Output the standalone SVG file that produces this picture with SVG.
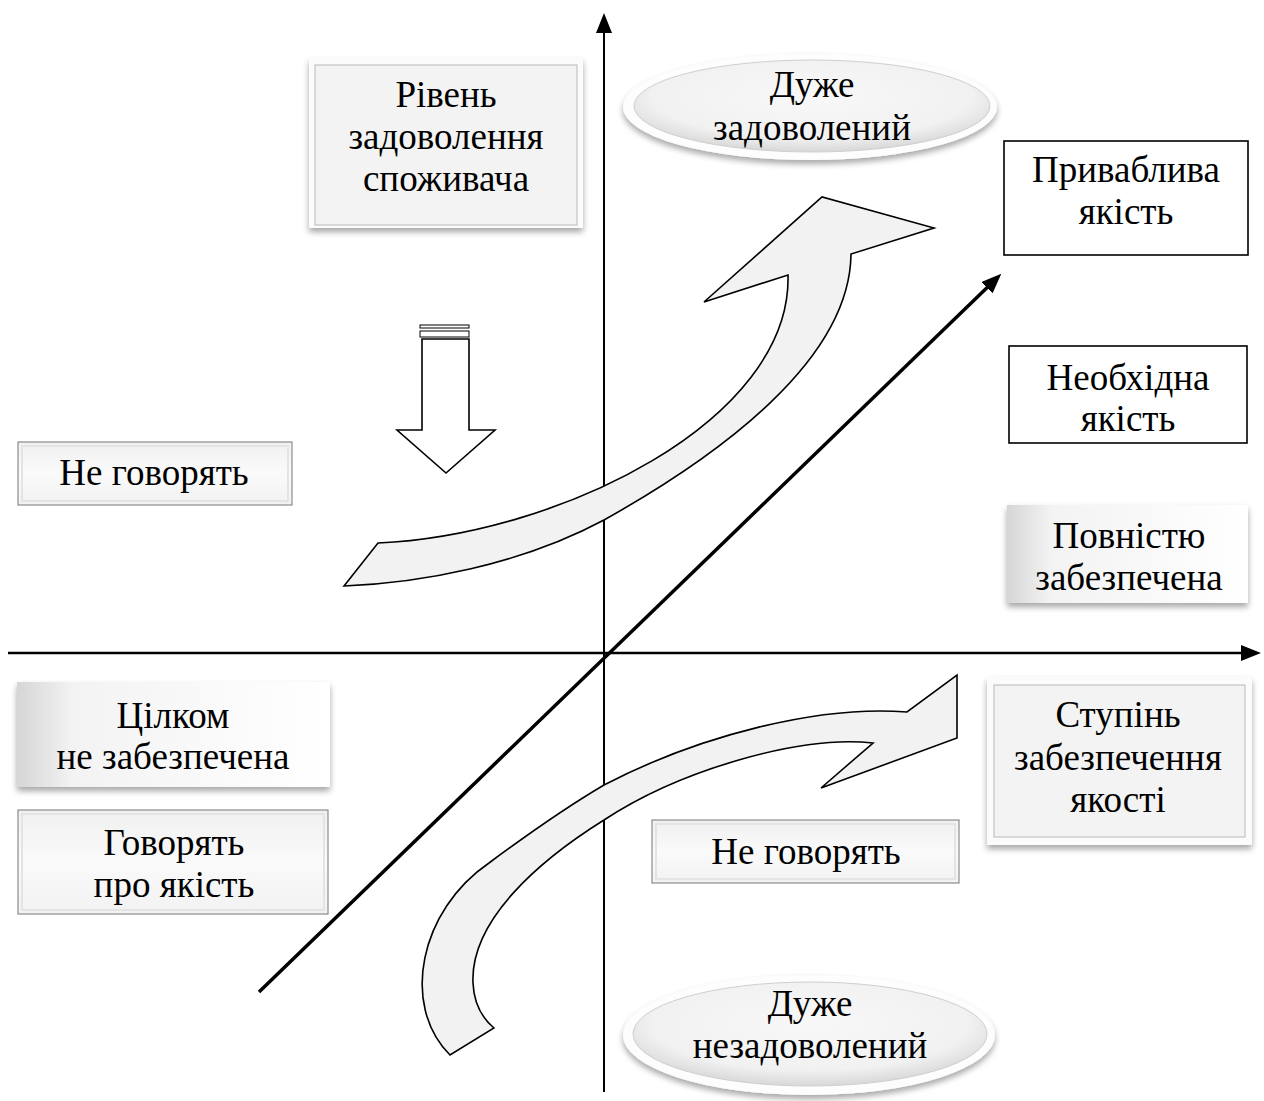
<svg xmlns="http://www.w3.org/2000/svg" width="1264" height="1101" viewBox="0 0 1264 1101">
<defs>
<style>
text{font-family:"Liberation Serif","Times New Roman","DejaVu Serif",serif;font-size:37px;fill:#000;text-anchor:middle}
.plain{fill:#fff;stroke:#000;stroke-width:1.6}
.bevOuter{fill:#fbfbfb;filter:url(#sh)}
.bevInner{fill:#f3f3f3;stroke:#b8b8b8;stroke-width:1}
.flat{fill:url(#gFlat);stroke:#8c8c8c;stroke-width:1.2}
.flatIn{fill:none;stroke:#e4e4e4;stroke-width:2}
.soft{fill:url(#gSoft);filter:url(#sh)}
.ax{stroke:#000;fill:none}
.band{fill:#f2f2f2;stroke:#000;stroke-width:1.6;stroke-linejoin:miter}
.ellOut{fill:#fdfdfd;filter:url(#sh)}
.ellIn{fill:url(#gEll);stroke:#cfcfcf;stroke-width:1}
</style>
<filter id="sh" x="-10%" y="-10%" width="120%" height="130%">
<feGaussianBlur in="SourceAlpha" stdDeviation="3"/>
<feOffset dx="0" dy="4" result="b"/>
<feComponentTransfer><feFuncA type="linear" slope="0.35"/></feComponentTransfer>
<feMerge><feMergeNode/><feMergeNode in="SourceGraphic"/></feMerge>
</filter>
<linearGradient id="gFlat" x1="0" y1="0" x2="0" y2="1">
<stop offset="0" stop-color="#f0f0f0"/><stop offset="0.5" stop-color="#fafafa"/><stop offset="1" stop-color="#f2f2f2"/>
</linearGradient>
<linearGradient id="gSoft" x1="0" y1="0" x2="1" y2="0">
<stop offset="0" stop-color="#d6d6d6"/><stop offset="0.18" stop-color="#f3f3f3"/><stop offset="1" stop-color="#ffffff"/>
</linearGradient>
<radialGradient id="gEll" cx="0.5" cy="0.4" r="0.6">
<stop offset="0" stop-color="#f8f8f8"/><stop offset="0.75" stop-color="#f1f1f1"/><stop offset="1" stop-color="#d8d8d8"/>
</radialGradient>
<marker id="ah" viewBox="0 0 20 16" refX="14" refY="8" markerWidth="20" markerHeight="16" markerUnits="userSpaceOnUse" orient="auto">
<path d="M0,0 L20,8 L0,16 Z" fill="#000"/>
</marker>
</defs>

<g id="connectors">
<line class="ax" x1="604" y1="1092" x2="604" y2="19" stroke-width="2" marker-end="url(#ah)"/>
<line class="ax" x1="8" y1="653" x2="1255" y2="653" stroke-width="2.5" marker-end="url(#ah)"/>
<line class="ax" x1="259" y1="992" x2="997" y2="278" stroke-width="3.5" marker-end="url(#ah)"/>
<path id="arrow-up" class="band" d="M344,586 L378,543 C560,535 792,420 788,275 L704,302 L822,197 L934,228 L851,254 C850,360 720,455 604,520 C520,565 420,583 344,586 Z"/>
<path id="arrow-low" class="band" d="M450,1055 C400,1005 420,910 489,863 C520,840 570,805 604,785 C700,735 820,705 907,712 L957,675 L957,738 L821,788 L873,743 C800,735 680,770 604,820 C540,860 470,920 473,983 C474,1005 482,1018 494,1028 Z"/>
<g id="arrow-down">
<rect x="420" y="325" width="49" height="3" fill="#fff" stroke="#000" stroke-width="1"/>
<rect x="420" y="331" width="49" height="6" fill="#fff" stroke="#000" stroke-width="1"/>
<path d="M422,339 L469,339 L469,430 L495,430 L446,473 L397,430 L422,430 Z" fill="#fff" stroke="#000" stroke-width="1.6"/>
</g>
</g>

<g id="node-riven">
<rect class="bevOuter" x="309" y="58" width="274" height="170"/>
<rect class="bevInner" x="315" y="65" width="262" height="160"/>
<text x="446" y="107">Рівень</text>
<text x="446" y="149">задоволення</text>
<text x="446" y="191">споживача</text>
</g>

<g id="node-duzhe-zad">
<ellipse class="ellOut" cx="810" cy="107" rx="187" ry="53"/>
<ellipse class="ellIn" cx="812" cy="106" rx="178" ry="46"/>
<text x="812" y="97">Дуже</text>
<text x="812" y="140">задоволений</text>
</g>

<g id="node-pryvablyva">
<rect class="plain" x="1004" y="141" width="244" height="114"/>
<text x="1126" y="182">Приваблива</text>
<text x="1126" y="224">якість</text>
</g>

<g id="node-neobkhidna">
<rect class="plain" x="1009" y="346" width="238" height="97"/>
<text x="1128" y="390">Необхідна</text>
<text x="1128" y="431">якість</text>
</g>

<g id="node-povnistyu">
<rect class="soft" x="1007" y="505" width="241" height="98"/>
<text x="1129" y="548">Повністю</text>
<text x="1129" y="590">забезпечена</text>
</g>

<g id="node-ne-hovoryat-left">
<rect class="flat" x="18" y="442" width="274" height="63"/>
<rect class="flatIn" x="22" y="446" width="266" height="55"/>
<text x="154" y="485">Не говорять</text>
</g>

<g id="node-tsilkom">
<rect class="soft" x="17" y="682" width="313" height="105"/>
<text x="173" y="728">Цілком</text>
<text x="173" y="769">не забезпечена</text>
</g>

<g id="node-hovoryat">
<rect class="flat" x="18" y="810" width="310" height="104"/>
<rect class="flatIn" x="22" y="814" width="302" height="96"/>
<text x="174" y="855">Говорять</text>
<text x="174" y="897">про якість</text>
</g>

<g id="node-stupin">
<rect class="bevOuter" x="987" y="677" width="265" height="168"/>
<rect class="bevInner" x="994" y="685" width="251" height="152"/>
<text x="1118" y="727">Ступінь</text>
<text x="1118" y="770">забезпечення</text>
<text x="1118" y="812">якості</text>
</g>

<g id="node-ne-hovoryat-right">
<rect class="flat" x="652" y="820" width="307" height="63"/>
<rect class="flatIn" x="656" y="824" width="299" height="55"/>
<text x="806" y="864">Не говорять</text>
</g>

<g id="node-duzhe-nezad">
<ellipse class="ellOut" cx="809" cy="1035" rx="186" ry="60"/>
<ellipse class="ellIn" cx="810" cy="1034" rx="177" ry="52"/>
<text x="810" y="1016">Дуже</text>
<text x="810" y="1058">незадоволений</text>
</g>
</svg>
